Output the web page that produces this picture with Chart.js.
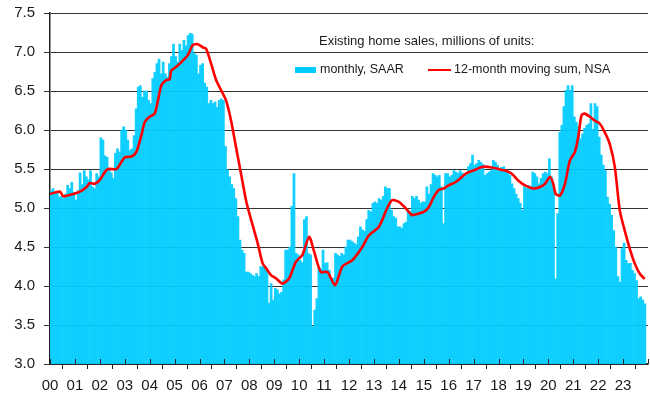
<!DOCTYPE html>
<html>
<head>
<meta charset="utf-8">
<script src="https://cdn.jsdelivr.net/npm/chart.js@4.4.0/dist/chart.umd.min.js"></script>
<style>
  html, body { margin: 0; padding: 0; background: #fff; }
  #wrap { width: 650px; height: 400px; }
</style>
</head>
<body>
<div id="wrap"><canvas id="chart" width="650" height="400"></canvas></div>
<script>
// Existing home sales, millions of units (monthly, SAAR), Jan 2000 .. Nov 2023
const monthlySaar = [
  5.22, 5.25, 5.18, 5.20, 5.14, 5.15, 5.12, 5.18, 5.29, 5.25, 5.33, 5.20, // 00
  5.10, 5.22, 5.45, 5.30, 5.48, 5.40, 5.36, 5.48, 5.27, 5.25, 5.44, 5.40, // 01
  5.90, 5.87, 5.67, 5.65, 5.50, 5.45, 5.38, 5.70, 5.76, 5.72, 6.00, 6.04, // 02
  6.00, 5.87, 5.74, 5.76, 5.93, 6.27, 6.55, 6.57, 6.42, 6.50, 6.50, 6.38, // 03
  6.34, 6.66, 6.74, 6.85, 6.91, 6.72, 6.87, 6.72, 6.68, 6.85, 6.94, 7.10, // 04
  6.94, 6.87, 7.10, 7.02, 7.15, 7.08, 7.21, 7.24, 7.23, 6.98, 6.96, 6.72, // 05
  6.83, 6.85, 6.60, 6.55, 6.34, 6.38, 6.34, 6.36, 6.29, 6.38, 6.40, 6.38, // 06
  5.79, 5.49, 5.40, 5.30, 5.25, 5.12, 4.89, 4.59, 4.46, 4.42, 4.18, 4.18, // 07
  4.16, 4.14, 4.12, 4.16, 4.12, 4.25, 4.25, 4.25, 4.22, 3.78, 4.03, 3.82, // 08
  3.97, 3.95, 3.90, 3.92, 4.08, 4.46, 4.46, 4.50, 5.02, 5.44, 4.42, 4.40, // 09
  4.33, 4.30, 4.85, 4.89, 4.42, 4.40, 3.48, 3.69, 3.84, 4.25, 4.22, 4.46, // 10
  4.29, 4.30, 4.20, 4.08, 4.10, 4.42, 4.40, 4.38, 4.42, 4.40, 4.50, 4.59, // 11
  4.59, 4.57, 4.55, 4.53, 4.63, 4.76, 4.72, 4.70, 4.85, 4.97, 4.95, 5.06, // 12
  5.08, 5.06, 5.12, 5.10, 5.15, 5.27, 5.25, 5.25, 4.97, 4.89, 4.87, 4.76, // 13
  4.76, 4.74, 4.80, 4.82, 4.97, 4.95, 5.15, 5.12, 5.15, 5.10, 5.06, 5.08, // 14
  5.08, 5.27, 5.18, 5.30, 5.44, 5.42, 5.40, 5.42, 5.27, 4.80, 5.44, 5.44, // 15
  5.40, 5.42, 5.48, 5.46, 5.44, 5.48, 5.45, 5.40, 5.44, 5.53, 5.57, 5.68, // 16
  5.55, 5.57, 5.61, 5.59, 5.56, 5.42, 5.44, 5.46, 5.48, 5.61, 5.59, 5.55, // 17
  5.50, 5.52, 5.53, 5.48, 5.46, 5.42, 5.31, 5.25, 5.18, 5.12, 5.06, 4.97, // 18
  5.27, 5.25, 5.29, 5.27, 5.46, 5.44, 5.40, 5.31, 5.38, 5.44, 5.46, 5.44, // 19
  5.63, 5.40, 5.27, 4.09, 4.93, 5.97, 6.06, 6.30, 6.51, 6.57, 6.51, 6.57, // 20
  6.17, 6.10, 6.04, 5.89, 5.95, 6.02, 6.06, 6.08, 6.34, 6.01, 6.34, 6.30, // 21
  5.91, 5.68, 5.55, 5.48, 5.14, 5.05, 4.91, 4.71, 4.50, 4.12, 4.05, 4.48, // 22
  4.55, 4.33, 4.29, 4.29, 4.20, 4.16, 4.07, 3.84, 3.86, 3.82, 3.77        // 23
];

// 12-month moving sum, NSA (month index, value)
const sumMonth = [
  -0.5, 4.3, 5.9, 10.7, 13.9, 17.1, 18.7, 21.1, 23.5, 25.9, 27.5, 31.5, 33.9, 35.5, 38.7,
  41.1, 43.5, 45.1, 47.5, 49.9, 51.5, 53.1, 55.5, 57.1, 57.9, 60.3, 63.5, 65.9, 68.3, 70.7,
  73.1, 74.7, 77.1, 79.5, 81.9, 84.3, 86.7, 89.1, 91.5, 93.9, 95.5, 99.5, 101.9, 103.5, 105.9,
  108.3, 111.5, 114.7, 117.9, 121.1, 124.3, 126.7, 129.9, 133.1, 136.8, 140.3, 145.1, 149.9, 153.1, 157.9,
  161.9, 164.3, 167.5, 170.7, 173.9, 177.1, 179.5, 181.9, 184.3, 186.7, 189.1, 191.5, 194.7, 197.1, 198.7,
  201.1, 203.5, 206.7, 209.1, 212.3, 215.5, 218.7, 221.9, 225.1, 228.3, 232.3, 235.5, 237.9, 240.3, 241.9,
  243.0, 245.1, 247.5, 249.9, 252.3, 253.9, 255.5, 257.1, 259.5, 261.9, 264.3, 266.7, 269.1, 271.5, 273.9,
  276.3, 278.7, 281.1, 283.5, 285.9
];
const sumValue = [
  5.18, 5.21, 5.15, 5.18, 5.21, 5.27, 5.32, 5.31, 5.36, 5.46, 5.50, 5.50, 5.59, 5.65, 5.66,
  5.72, 5.93, 6.10, 6.17, 6.21, 6.38, 6.57, 6.64, 6.65, 6.76, 6.81, 6.89, 6.96, 7.09, 7.10,
  7.06, 7.04, 6.85, 6.64, 6.51, 6.38, 6.12, 5.78, 5.44, 5.10, 4.93, 4.55, 4.29, 4.23, 4.14,
  4.10, 4.03, 4.10, 4.31, 4.40, 4.63, 4.44, 4.18, 4.18, 4.01, 4.25, 4.33, 4.50, 4.65, 4.76,
  5.00, 5.10, 5.08, 5.00, 4.91, 4.93, 4.95, 5.01, 5.14, 5.23, 5.25, 5.29, 5.33, 5.38, 5.42,
  5.46, 5.48, 5.52, 5.53, 5.52, 5.50, 5.48, 5.44, 5.35, 5.29, 5.25, 5.27, 5.31, 5.40, 5.31,
  5.18, 5.16, 5.31, 5.61, 5.72, 5.91, 6.19, 6.21, 6.17, 6.12, 6.08, 5.97, 5.82, 5.53, 4.97,
  4.71, 4.48, 4.29, 4.16, 4.09
];

const legendTitle = 'Existing home sales, millions of units:';
const barColor = '#00ccff';
const lineColor = '#ff0000';
const fontFamily = '"Liberation Sans", Arial, sans-serif';

// legenda desenhada dentro da área do gráfico
const legendInside = {
  id: 'legendInside',
  afterDraw(chart) {
    const c = chart.ctx;
    const lineSet = chart.data.datasets[0];
    const barSet = chart.data.datasets[1];
    c.save();
    c.textBaseline = 'middle';
    c.fillStyle = '#1a1a1a';
    c.font = '13px ' + fontFamily;
    c.fillText(legendTitle, 319, 41);

    c.font = '12.5px ' + fontFamily;
    c.fillStyle = barColor;
    c.fillRect(295, 67, 21, 6);
    c.fillStyle = '#1a1a1a';
    c.fillText(barSet.label, 320, 70);

    c.strokeStyle = lineColor;
    c.lineWidth = 2;
    c.beginPath();
    c.moveTo(428, 70);
    c.lineTo(451, 70);
    c.stroke();
    c.fillText(lineSet.label, 454, 70);
    c.restore();
  }
};

// marcas do eixo x cruzando a linha do eixo (parte de dentro)
const innerTicks = {
  id: 'innerTicks',
  afterDatasetsDraw(chart) {
    const x = chart.scales.x;
    const c = chart.ctx;
    c.save();
    c.strokeStyle = '#222';
    c.lineWidth = 1;
    c.beginPath();
    x.ticks.forEach(t => {
      const px = Math.round(x.getPixelForValue(t.value)) + 0.5;
      c.moveTo(px, x.top - 5);
      c.lineTo(px, x.top);
    });
    c.stroke();
    c.restore();
  }
};

new Chart(document.getElementById('chart'), {
  type: 'bar',
  data: {
    datasets: [
      {
        type: 'line',
        label: '12-month moving sum, NSA',
        data: sumMonth.map((m, k) => ({ x: m + 0.5, y: sumValue[k] })),
        borderColor: lineColor,
        borderWidth: 2.6,
        pointRadius: 0,
        tension: 0.25,
        order: 0
      },
      {
        type: 'bar',
        label: 'monthly, SAAR',
        data: monthlySaar.map((v, i) => ({ x: i + 0.5, y: v })),
        backgroundColor: 'rgba(0, 204, 255, 0.92)',
        borderWidth: 0,
        barPercentage: 1,
        categoryPercentage: 1,
        order: 1
      }
    ]
  },
  options: {
    responsive: false,
    animation: false,
    layout: { autoPadding: false, padding: { top: 13, right: 2, left: 0, bottom: 0 } },
    plugins: { legend: { display: false }, tooltip: { enabled: false } },
    scales: {
      x: {
        type: 'linear', min: 0, max: 288, offset: false,
        ticks: {
          stepSize: 12, autoSkip: false, maxRotation: 0, padding: 8,
          color: '#1a1a1a', font: { size: 15, family: fontFamily },
          callback: v => v >= 288 ? '' : String(v / 12).padStart(2, '0')
        },
        grid: { drawOnChartArea: false, color: '#222', tickLength: 5 },
        border: { color: '#222', width: 1.5 },
        afterFit: s => { s.height = 36; s.paddingLeft = 0; s.paddingRight = 0; }
      },
      y: {
        min: 3, max: 7.5,
        ticks: {
          stepSize: 0.5, padding: 9,
          color: '#1a1a1a', font: { size: 15, family: fontFamily },
          callback: v => v.toFixed(1)
        },
        grid: { color: '#333', tickLength: 6 },
        border: { color: '#222', width: 1.5 },
        afterFit: s => { s.width = 50; s.paddingTop = 0; s.paddingBottom = 0; }
      }
    }
  },
  plugins: [legendInside, innerTicks]
});
</script>
</body>
</html>
